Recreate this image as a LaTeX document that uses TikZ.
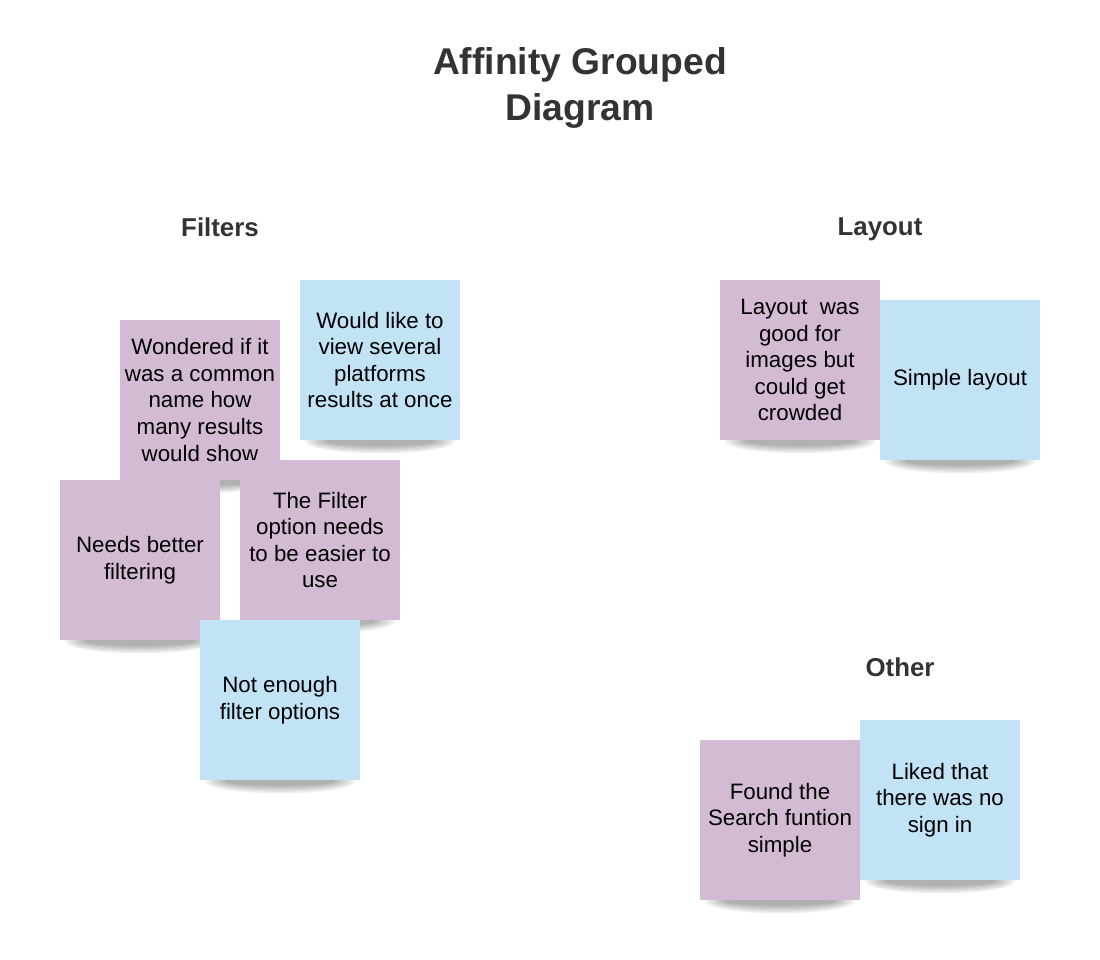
\documentclass[tikz,border=0pt]{standalone}
\usepackage{fontspec}
\setmainfont{Liberation Sans}
\usetikzlibrary{backgrounds}
\definecolor{notepurple}{HTML}{D3BCD3}
\definecolor{noteblue}{HTML}{C2E3F5}
\definecolor{headgray}{HTML}{333333}

\tikzset{
    note/.style={rectangle, minimum size=3.2cm, inner sep=0pt, align=center,
        font=\fontsize{12.7}{15.1}\selectfont},
    purplenote/.style={note, fill=notepurple},
    bluenote/.style={note, fill=noteblue},
    grouphead/.style={text=headgray, text depth=0pt, font=\fontsize{14.7}{17}\selectfont\bfseries},
    shadowlayer/.style={fill=black, opacity=0.06}
}

\begin{document}
\begin{tikzpicture}
                \useasboundingbox (0,0) rectangle (22,-19.2);
                \node[text=headgray,align=center,font=\fontsize{21.2}{26}\selectfont\bfseries] (title) at (11.6,-1.76){Affinity Grouped\\Diagram};
                % Filters
                \node[grouphead] (filters) at (4.4,-4.54){Filters};
                \node[purplenote] (wondered) at (4,-8){Wondered if it\\was a common\\name how\\many results\\would show};
                \node[bluenote] (several) at (7.6,-7.2){Would like to\\view several\\platforms\\results at once};
                \node[purplenote] (better) at (2.8,-11.2){Needs better\\filtering};
                \node[purplenote] (easier) at (6.4,-10.8){The Filter\\option needs\\to be easier to\\use};
                \node[bluenote] (options) at (5.6,-14){Not enough\\filter options};
                % Layout
                \node[grouphead] (layout) at (17.6,-4.54){Layout};
                \node[purplenote] (crowded) at (16,-7.2){Layout\ \ was\\good for\\images but\\could get\\crowded};
                \node[bluenote] (simple) at (19.2,-7.6){Simple layout};
                % Other
                \node[grouphead] (other) at (18,-13.34){Other};
                \node[purplenote] (search) at (15.6,-16.4){Found the\\Search funtion\\simple};
                \node[bluenote] (signin) at (18.8,-16){Liked that\\there was no\\sign in};
                % shadows
                \begin{scope}[on background layer]
                    \foreach \n in {wondered,several,better,easier,options,crowded,simple,search,signin}
                        \foreach \k in {0,...,5}
                            \fill[shadowlayer] ([yshift=-0.02cm]\n.south) ellipse [x radius={1.5cm-\k*0.08cm}, y radius={0.24cm-\k*0.03cm}];
                \end{scope}
            \end{tikzpicture}
\end{document}
